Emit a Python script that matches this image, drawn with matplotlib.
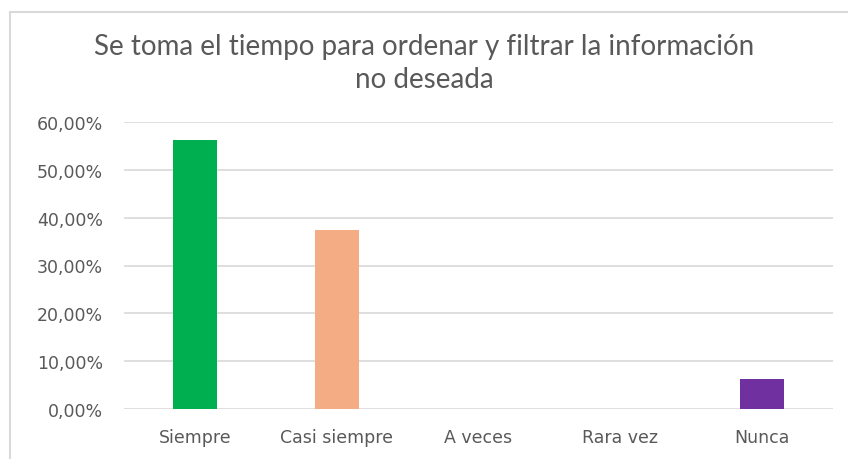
import matplotlib
matplotlib.use("Agg")
import matplotlib.pyplot as plt
from matplotlib.lines import Line2D
from matplotlib.ticker import FuncFormatter

categories = ["Siempre", "Casi siempre", "A veces", "Rara vez", "Nunca"]
values = [0.5625, 0.375, 0.0, 0.0, 0.0625]
colors = ["#00B050", "#F4AC84", "#00B050", "#00B050", "#7030A0"]
yticks = [0.0, 0.1, 0.2, 0.3, 0.4, 0.5, 0.6]

fig = plt.figure(figsize=(8.48, 4.6), dpi=100)
ax = fig.add_axes([124/848, 1 - 410/460, (833 - 124)/848, (410 - 123)/460])

x = range(len(categories))
ax.bar(x, values, width=0.31, color=colors, zorder=3)

ax.set_xlim(-0.5, len(categories) - 0.5)
ax.set_ylim(0, 0.6)
ax.set_yticks(yticks)
ax.yaxis.set_major_formatter(FuncFormatter(lambda v, p: f"{v*100:.2f}%".replace(".", ",")))
ax.set_xticks(list(x))
ax.set_xticklabels(categories)
ax.grid(axis="y", color="#D9D9D9", linewidth=1.2, zorder=0)
for s in ax.spines.values():
    s.set_visible(False)
ax.tick_params(axis="both", length=0, colors="#595959", labelsize=12.5)
ax.tick_params(axis="y", pad=15)
ax.tick_params(axis="x", pad=14)
for lab in ax.get_xticklabels() + ax.get_yticklabels():
    lab.set_family("DejaVu Sans")

fig.text(0.5, 1 - 47/460, "Se toma el tiempo para ordenar y filtrar la información",
         ha="center", va="center", fontsize=20, color="#595959", family="Lato")
fig.text(0.5, 1 - 80/460, "no deseada",
         ha="center", va="center", fontsize=20, color="#595959", family="Lato")

# chart frame (left and top edges visible)
fig.add_artist(Line2D([10/848, 10/848], [0, 1 - 13/460], color="#D9D9D9", linewidth=1.5))
fig.add_artist(Line2D([10/848, 1], [1 - 13/460, 1 - 13/460], color="#D9D9D9", linewidth=1.5))

fig.savefig("out.png", dpi=100)
